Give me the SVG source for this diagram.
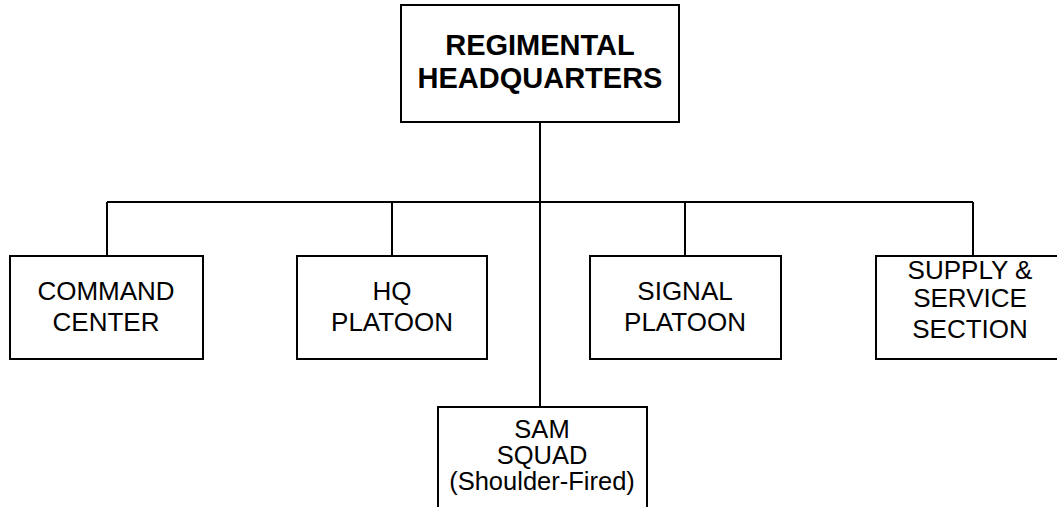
<svg xmlns="http://www.w3.org/2000/svg" width="1057" height="507" viewBox="0 0 1057 507">
<style>
.box{fill:#fff;stroke:#000;stroke-width:2}
.ln{fill:none;stroke:#000;stroke-width:2}
.t{font-family:"Liberation Sans",Arial,sans-serif;font-size:26px;fill:#000;text-anchor:middle}
.b{font-weight:bold;font-size:29px}
.s{font-size:25.5px}
</style>
<rect width="1057" height="507" fill="#fff"/>
<g id="connectors">
<path class="ln" d="M540 122V407M107 202H973M107 202V256M392 202V256M685 202V256M973 202V256"/>
</g>
<g id="hq">
<rect class="box" x="401" y="5" width="278" height="117"/>
<text class="t b" x="540" y="55">REGIMENTAL</text>
<text class="t b" x="540" y="88">HEADQUARTERS</text>
</g>
<g id="command">
<rect class="box" x="10" y="256" width="193" height="103"/>
<text class="t" x="106" y="300">COMMAND</text>
<text class="t" x="106" y="331">CENTER</text>
</g>
<g id="hqplatoon">
<rect class="box" x="297" y="256" width="190" height="103"/>
<text class="t" x="392" y="300">HQ</text>
<text class="t" x="392" y="331">PLATOON</text>
</g>
<g id="signal">
<rect class="box" x="590" y="256" width="191" height="103"/>
<text class="t" x="685" y="300">SIGNAL</text>
<text class="t" x="685" y="331">PLATOON</text>
</g>
<g id="supply">
<rect class="box" x="876" y="256" width="192" height="103"/>
<text class="t" x="970" y="279">SUPPLY &amp;</text>
<text class="t" x="970" y="307">SERVICE</text>
<text class="t" x="970" y="338">SECTION</text>
</g>
<g id="sam">
<rect class="box" x="438" y="407" width="209" height="110"/>
<text class="t s" x="542" y="438">SAM</text>
<text class="t s" x="542" y="464">SQUAD</text>
<text class="t s" x="542" y="490">(Shoulder-Fired)</text>
</g>
</svg>
